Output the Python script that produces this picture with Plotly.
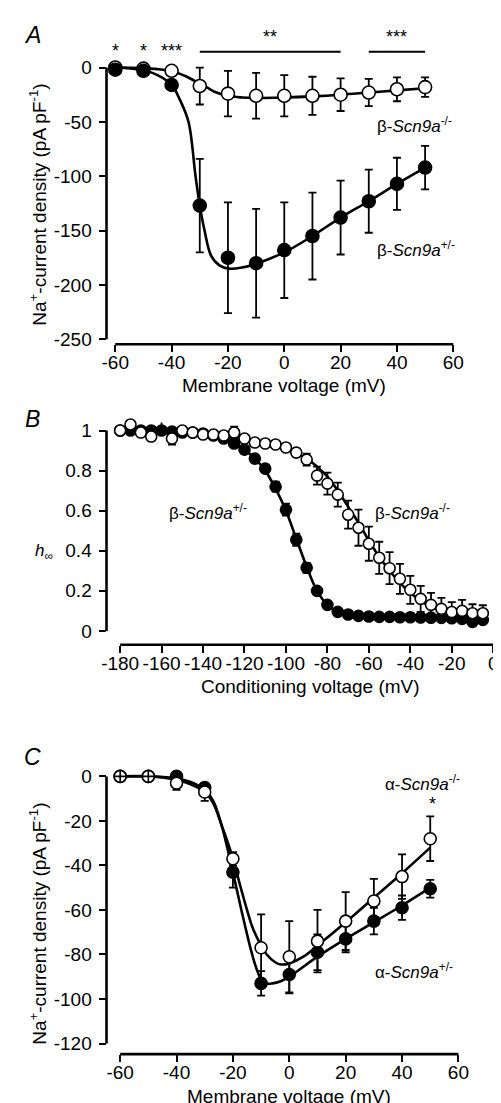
import plotly.graph_objects as go

W, H = 501, 1103
FONT = "Liberation Sans, Arial, sans-serif"

# ---------------- Panel A data ----------------
a_v = [-60, -50, -40, -30, -20, -10, 0, 10, 20, 30, 40, 50]
a_ko = [0, -1, -3, -17, -24, -26, -26, -26, -25, -23, -20, -18]
a_ko_err = [0, 0, 1, 17, 21, 21, 19, 17.5, 15, 12.5, 11, 9]
a_het = [-2, -3, -16, -127, -175, -180, -168, -155, -138, -123, -107, -92]
a_het_err = [0, 0, 1, 43, 51, 50, 44, 40, 34, 29, 24, 20]
a_fit_ko_v = [-60, -50, -45, -40, -35, -30, -27, -25, -20, -15, -10, 0, 10, 20, 30, 40, 50]
a_fit_ko = [0, -0.5, -1.5, -3.5, -8, -15, -19, -22, -26, -27.5, -28, -27.5, -26.5, -25, -23, -21, -19]
a_fit_het_v = [-60, -50, -45, -40, -37, -34, -31.5, -30, -28.3, -26, -23, -19.7, -15, -10, 0, 10, 20, 30, 40, 50]
a_fit_het = [0, -2.5, -7, -16, -30, -50, -100, -127, -150, -173, -182, -185, -184, -180.5, -170, -155, -138, -123, -107, -92]

# ---------------- Panel B data ----------------
b_v = [-180, -175, -170, -165, -160, -155, -150, -145, -140, -135, -130, -125,
       -120, -115, -110, -105, -100, -95, -90, -85, -80, -75, -70, -65,
       -60, -55, -50, -45, -40, -35, -30, -25, -20, -15, -10, -5]
b_ko = [1.00, 1.03, 0.99, 0.97, 1.04, 0.96, 1.00, 0.99, 0.98, 0.98, 0.975, 0.99,
        0.96, 0.94, 0.935, 0.93, 0.915, 0.89, 0.855, 0.775, 0.735, 0.68, 0.58, 0.515,
        0.435, 0.365, 0.313, 0.26, 0.205, 0.16, 0.13, 0.11, 0.094, 0.10, 0.088, 0.088]
b_ko_err = [0.01, 0.02, 0.01, 0.02, 0.04, 0.03, 0.01, 0.01, 0.01, 0.01, 0.01, 0.03,
            0.01, 0.01, 0.01, 0.01, 0.015, 0.02, 0.03, 0.045, 0.055, 0.06, 0.07, 0.09,
            0.085, 0.08, 0.08, 0.075, 0.07, 0.065, 0.06, 0.055, 0.05, 0.055, 0.045, 0.04]
b_het = [1.00, 1.00, 1.00, 1.00, 1.00, 0.995, 0.99, 0.99, 0.985, 0.975, 0.96, 0.935,
         0.905, 0.86, 0.81, 0.72, 0.605, 0.455, 0.315, 0.20, 0.13, 0.095, 0.082, 0.075,
         0.072, 0.07, 0.07, 0.068, 0.068, 0.067, 0.066, 0.065, 0.063, 0.06, 0.045, 0.055]
b_het_err = [0.01, 0.01, 0.01, 0.01, 0.01, 0.01, 0.01, 0.01, 0.01, 0.01, 0.015, 0.015,
             0.02, 0.02, 0.02, 0.025, 0.03, 0.03, 0.025, 0.02, 0.015, 0.01, 0.01, 0.01,
             0.01, 0.01, 0.01, 0.01, 0.01, 0.01, 0.01, 0.01, 0.01, 0.01, 0.01, 0.01]
b_fit_ko_v = [-180, -160, -140, -120, -110, -100, -90, -85, -80, -75, -70, -65, -60, -55,
              -50, -45, -40, -35, -30, -25, -20, -15, -10, -5]
b_fit_ko = [1.0, 0.995, 0.985, 0.96, 0.94, 0.91, 0.86, 0.82, 0.77, 0.70, 0.62, 0.54, 0.45, 0.37,
            0.30, 0.24, 0.19, 0.15, 0.12, 0.10, 0.085, 0.078, 0.072, 0.068]
b_fit_het_v = [-180, -160, -140, -130, -125, -120, -115, -110, -105, -100, -95, -90, -85, -80,
               -75, -70, -60, -40, -5]
b_fit_het = [1.0, 0.998, 0.985, 0.96, 0.935, 0.905, 0.86, 0.80, 0.71, 0.60, 0.46, 0.32, 0.20, 0.13,
             0.095, 0.078, 0.068, 0.065, 0.064]

# ---------------- Panel C data ----------------
c_v = [-60, -50, -40, -30, -20, -10, 0, 10, 20, 30, 40, 50]
c_ko = [0, 0, -3, -7, -37, -77, -81, -74, -65, -56, -45, -28]
c_ko_err = [0, 0, 3, 4, 3, 15, 16, 14, 13, 10, 10, 10]
c_het = [0, 0, 0, -5, -43, -93, -89, -79, -73, -65, -59, -50.5]
c_het_err = [0, 0, 1, 2, 7, 5.5, 8.5, 8, 6, 6, 5.5, 4]
c_fit_ko_v = [-60, -50, -40, -35, -30, -27, -24, -22, -20, -17, -15, -13, -10, -8, -5, -3, 0, 5, 10, 20, 30, 40, 50]
c_fit_ko = [0, 0, -1.5, -3.5, -7, -12, -22, -29, -37, -51, -60, -68, -76, -80, -83.5, -84.5, -84, -81, -76, -65.5, -54.5, -43.5, -32]
c_fit_het_v = [-60, -50, -40, -35, -30, -27, -24, -22, -20, -17, -14, -12, -10, -8, -6, -3, 0, 10, 20, 30, 40, 50]
c_fit_het = [0, 0, -0.8, -2.5, -6, -11, -22, -32, -43, -60, -76, -85, -91, -93, -93, -92, -90, -81, -73, -65.5, -58, -50]

# tick values and labels
a_xt = [-60, -40, -20, 0, 20, 40, 60]
a_yt = [0, -50, -100, -150, -200, -250]
b_xt = [-180, -160, -140, -120, -100, -80, -60, -40, -20, 0]
b_yt = [0, 0.2, 0.4, 0.6, 0.8, 1]
b_ytl = ["0", "0.2", "0.4", "0.6", "0.8", "1"]
c_xt = [-60, -40, -20, 0, 20, 40, 60]
c_yt = [0, -20, -40, -60, -80, -100, -120]


def labels(vals):
    return [str(v) for v in vals]


def px(x):
    return x / W


def py(y):
    return 1 - y / H


def rng(v0, p0, v1, p1, e0, e1):
    s = (p1 - p0) / (v1 - v0)
    a = v0 + (e0 - p0) / s
    b = v0 + (e1 - p0) / s
    return [min(a, b), max(a, b)]


fig = go.Figure()

LW = 2.6


def add_panel(xa, ya, fits, series):
    for fv, fy in fits:
        fig.add_trace(go.Scatter(x=fv, y=fy, mode="lines", line=dict(color="black", width=LW, shape="spline"),
                                 xaxis=xa, yaxis=ya, showlegend=False, hoverinfo="skip", cliponaxis=False))
    for v, y, e, filled, size, sym in series:
        fig.add_trace(go.Scatter(
            x=v, y=y, mode="markers", xaxis=xa, yaxis=ya, showlegend=False, cliponaxis=False,
            error_y=dict(type="data", array=e, visible=True, color="black", thickness=1.8, width=4),
            marker=dict(size=size, symbol=sym, color="black" if filled else "white",
                        line=dict(color="black", width=1.6))))


add_panel("x", "y", [(a_fit_ko_v, a_fit_ko), (a_fit_het_v, a_fit_het)],
          [(a_v, a_ko, a_ko_err, False, 13, "circle"), (a_v, a_het, a_het_err, True, 13, "circle")])
add_panel("x2", "y2", [(b_fit_ko_v, b_fit_ko), (b_fit_het_v, b_fit_het)],
          [(b_v, b_het, b_het_err, True, 11, "circle"), (b_v, b_ko, b_ko_err, False, 11, "circle")])
c_sym = ["circle-cross", "circle-cross"] + ["circle"] * (len(c_v) - 2)
add_panel("x3", "y3", [(c_fit_ko_v, c_fit_ko), (c_fit_het_v, c_fit_het)],
          [(c_v, c_het, c_het_err, True, 12, "circle"), (c_v, c_ko, c_ko_err, False, 12, c_sym)])

TF = dict(family=FONT, size=19, color="black")


def axis(dom, r, tv, tt, standoff):
    return dict(domain=dom, range=r, tickvals=tv, ticktext=tt, ticks="outside", ticklen=7, tickwidth=2.2,
                tickcolor="black", showline=False, showgrid=False, zeroline=False, tickfont=TF,
                fixedrange=True, tickangle=0, ticklabelstandoff=standoff)


XS, YS = -6, 3

lay = dict(width=W, height=H, margin=dict(l=0, r=0, t=0, b=0), paper_bgcolor="white",
           plot_bgcolor="white", font=dict(family=FONT, color="black"), showlegend=False)

# Panel A
lay["xaxis"] = axis([px(96), px(455)], rng(-60, 105, 60, 452, 96, 455), a_xt, labels(a_xt), XS)
lay["xaxis"]["anchor"] = "y"
lay["yaxis"] = axis([py(336), py(50)], rng(0, 57, -250, 331, 50, 336), a_yt, labels(a_yt), YS)
lay["yaxis"]["anchor"] = "x"
# Panel B
lay["xaxis2"] = axis([px(96), px(498)], rng(-180, 110, 0, 493, 96, 498), b_xt, labels(b_xt), XS)
lay["xaxis2"]["anchor"] = "y2"
lay["yaxis2"] = axis([py(639), py(415)], rng(1, 423, 0, 625, 415, 639), b_yt, b_ytl, YS)
lay["yaxis2"]["anchor"] = "x2"
# Panel C
lay["xaxis3"] = axis([px(96), px(460)], rng(-60, 110, 60, 457.3, 96, 460), c_xt, labels(c_xt), XS)
lay["xaxis3"]["anchor"] = "y3"
lay["yaxis3"] = axis([py(1051.7), py(760)], rng(0, 771.7, -120, 1041, 760, 1051.7), c_yt, labels(c_yt), YS)
lay["yaxis3"]["anchor"] = "x3"

fig.update_layout(**lay)

# axis lines as shapes (detached axes)
AL = dict(color="black", width=2.6)
for xr, yr, x0, x1 in [("x", "y", -60, 60), ("x2", "y2", -180, 0), ("x3", "y3", -60, 60)]:
    fig.add_shape(type="line", xref=xr, yref=yr + " domain", x0=x0, x1=x1, y0=0, y1=0, line=AL)
for xr, yr, y0, y1 in [("x", "y", 0, -250), ("x2", "y2", 0, 1), ("x3", "y3", 0, -120)]:
    fig.add_shape(type="line", xref=xr + " domain", yref=yr, x0=0, x1=0, y0=y0, y1=y1, line=AL)

# significance bars in panel A
for x0, x1 in [(-30, 20), (30, 50)]:
    fig.add_shape(type="line", xref="x", yref="paper", x0=x0, x1=x1, y0=py(41), y1=py(41),
                  line=dict(color="black", width=2))


def ann(text, x, y, size=19, xanchor="center", yanchor="middle", angle=0, xref="paper"):
    fig.add_annotation(text=text, x=x if xref != "paper" else px(x), y=py(y), xref=xref, yref="paper",
                       showarrow=False, xanchor=xanchor, yanchor=yanchor, textangle=angle,
                       font=dict(family=FONT, size=size, color="black"))


STAR = 18
ann("*", -60, 40, STAR, xref="x")
ann("*", -50, 40, STAR, xref="x")
ann("***", -40, 40, STAR, xref="x")
ann("**", -5, 26, STAR, xref="x")
ann("***", 40, 26, STAR, xref="x")

# panel letters
ann("<i>A</i>", 20, 24, 23)
ann("<i>B</i>", 20, 411, 23)
ann("<i>C</i>", 20, 752, 23)

LS = 17
ann("β-<i>Scn9a</i><sup>-/-</sup>", 372, 115, LS, xanchor="left")
ann("β-<i>Scn9a</i><sup>+/-</sup>", 372, 240, LS, xanchor="left")
ann("β-<i>Scn9a</i><sup>+/-</sup>", 158, 505, LS, xanchor="left")
ann("β-<i>Scn9a</i><sup>-/-</sup>", 370, 505, LS, xanchor="left")
ann("α-<i>Scn9a</i><sup>-/-</sup>", 380, 778, LS, xanchor="left")
ann("*", 431, 800, STAR)
ann("α-<i>Scn9a</i><sup>+/-</sup>", 370, 968, LS, xanchor="left")

# axis titles
ann("Membrane voltage (mV)", 278, 378, 19)
ann("Na<sup>+</sup>-current density (pA pF<sup>-1</sup>)", 26, 195, 19, angle=-90)
ann("Conditioning voltage (mV)", 305, 681, 19)
ann("<i>h</i><sub>∞</sub>", 32, 545, 17)
ann("Membrane voltage (mV)", 283, 1094, 19)
ann("Na<sup>+</sup>-current density (pA pF<sup>-1</sup>)", 26, 920, 19, angle=-90)

fig.write_html("out.html")
